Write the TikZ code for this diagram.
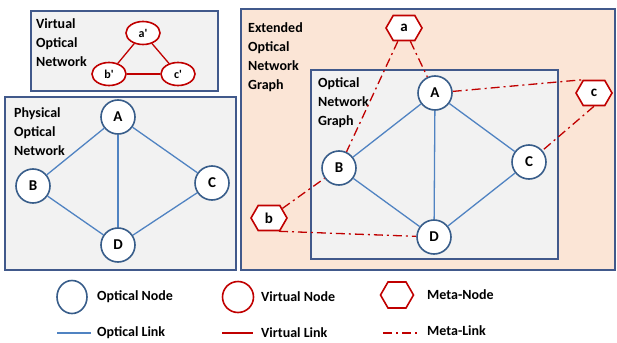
\documentclass[tikz,border=0pt]{standalone}
\usepackage{fontspec}
\setmainfont{Carlito}
\usetikzlibrary{positioning, shapes.geometric, shapes.symbols}

\definecolor{boxline}{HTML}{41598B}
\definecolor{nodeline}{HTML}{385D8A}
\definecolor{linkblue}{HTML}{5083C2}
\definecolor{virtred}{HTML}{C00000}
\definecolor{peach}{HTML}{FBE5D6}
\definecolor{panelgray}{HTML}{F2F2F2}

\begin{document}
\begin{tikzpicture}[x=1pt, y=-1pt, font=\bfseries\fontsize{14}{19}\selectfont,
  onode/.style={draw=nodeline, line width=1.6pt, circle, fill=white, minimum size=34pt, inner sep=0pt, font=\bfseries\fontsize{15}{18}\selectfont},
  vnode/.style={draw=virtred, line width=1.6pt, ellipse, fill=white, minimum width=34pt, minimum height=23pt, inner sep=0pt, font=\bfseries\fontsize{12}{14}\selectfont},
  mnode/.style={draw=virtred, line width=1.6pt, signal, signal to=east and west, signal pointer angle=120, fill=white, minimum width=36pt, minimum height=25pt, inner sep=0pt, font=\bfseries\fontsize{15}{18}\selectfont},
  olink/.style={draw=linkblue, line width=1.3pt},
  vlink/.style={draw=virtred, line width=1.3pt},
  mlink/.style={draw=virtred, line width=1.3pt, dash pattern=on 9pt off 4pt on 2pt off 4pt},
  panel/.style={draw=boxline, line width=1.3pt, fill=panelgray},
  title/.style={anchor=north west, align=left, inner sep=0pt}]
\useasboundingbox (0,0) rectangle (617,342);

% panels
\path[panel] (31,11) rectangle (218,91);
\path[panel] (5,97) rectangle (236,270);
\path[panel, fill=peach] (241,9) rectangle (615,270);
\path[panel] (311,70) rectangle (558,259);

\node[title] (vtitle) at (36,18) {Virtual\\Optical\\Network};
\node[title] (ptitle) at (14,107) {Physical\\Optical\\Network};
\node[title] (etitle) at (248,22) {Extended\\Optical\\Network\\Graph};
\node[title] (gtitle) at (318,77) {Optical\\Network\\Graph};

% virtual network
\node[vnode] (va) at (143,33) {a\textquotesingle};
\node[vnode] (vb) at (109,74) {b\textquotesingle};
\node[vnode] (vc) at (178,74) {c\textquotesingle};

\draw[vlink] (va) -- (vb);
\draw[vlink] (va) -- (vc);
\draw[vlink] (vb) -- (vc);

% physical network
\node[onode] (pA) at (118,117) {A};
\node[onode] (pB) at (33,186) {B};
\node[onode] (pC) at (212,183) {C};
\node[onode] (pD) at (118,245) {D};

\draw[olink] (pA) -- (pB);
\draw[olink] (pA) -- (pC);
\draw[olink] (pA) -- (pD);
\draw[olink] (pB) -- (pD);
\draw[olink] (pC) -- (pD);

% extended graph
\node[onode] (A) at (435,93) {A};
\node[onode] (B) at (339,168) {B};
\node[onode] (C) at (529,162) {C};
\node[onode] (D) at (434,237) {D};

\draw[olink] (A) -- (B);
\draw[olink] (A) -- (C);
\draw[olink] (A) -- (D);
\draw[olink] (B) -- (D);
\draw[olink] (C) -- (D);

\node[mnode] (a) at (404,28) {a};
\node[mnode] (b) at (269,218) {b};
\node[mnode] (c) at (594,93) {c};

\draw[mlink] (a) -- (A);
\draw[mlink] (a) -- (B);
\draw[mlink] (A) -- ([xshift=-11pt]c.north);
\draw[mlink] (c.south) -- (C);
\draw[mlink] (b) -- (B);
\draw[mlink] ([xshift=10pt]b.south) -- (D);

% legend
\def\x{0}
\def\y{297}
\node[draw=nodeline, line width=1.6pt, ellipse, minimum width=30pt, minimum height=33pt] (lon) at (\x + 72, \y + 0) {};
\node[anchor=west, inner sep=0pt] (lont) at (\x + 97, \y + 0) {Optical Node};
\node[draw=virtred, line width=1.6pt, ellipse, minimum width=31pt, minimum height=31pt] (lvn) at (\x + 238, \y + 0) {};
\node[anchor=west, inner sep=0pt] (lvnt) at (\x + 261, \y + 0) {Virtual Node};
\node[mnode, fill=none, minimum width=33pt, minimum height=26pt] (lmn) at (\x + 397, \y - 2) {};
\node[anchor=west, inner sep=0pt] (lmnt) at (\x + 427, \y - 2) {Meta-Node};

\def\y{333}
\coordinate (lol1) at (\x + 57, \y);
\coordinate (lol2) at (\x + 91, \y);
\coordinate (lvl1) at (\x + 222, \y);
\coordinate (lvl2) at (\x + 253, \y);
\coordinate (lml1) at (\x + 383, \y);
\coordinate (lml2) at (\x + 417, \y);
\draw[olink] (lol1) -- (lol2);
\draw[vlink] (lvl1) -- (lvl2);
\draw[mlink] (lml1) -- (lml2);
\node[anchor=west, inner sep=0pt] (lolt) at (\x + 97, \y) {Optical Link};
\node[anchor=west, inner sep=0pt] (lvlt) at (\x + 261, \y) {Virtual Link};
\node[anchor=west, inner sep=0pt] (lmlt) at (\x + 427, \y - 2) {Meta-Link};

\end{tikzpicture}
\end{document}
